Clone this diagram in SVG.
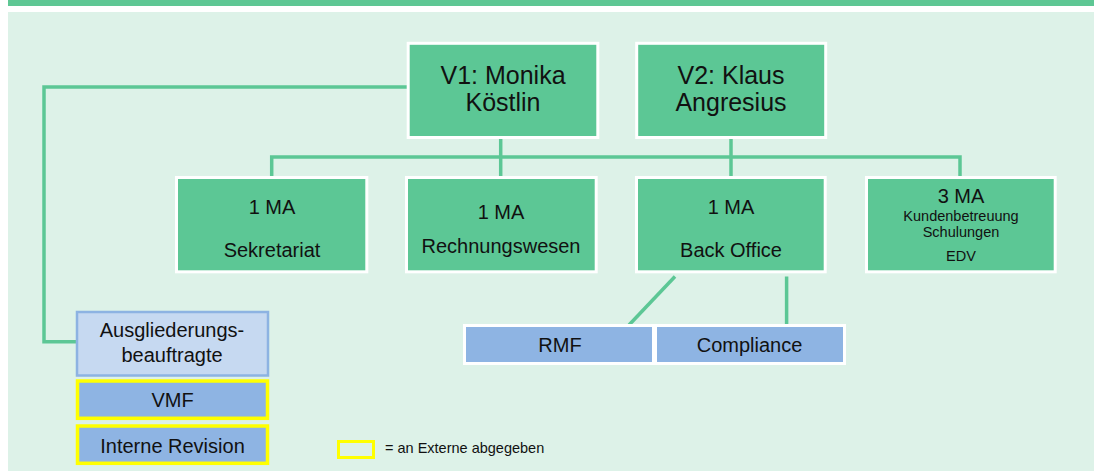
<svg xmlns="http://www.w3.org/2000/svg" width="1094" height="471" viewBox="0 0 1094 471">
<style>
text{font-family:"Liberation Sans",Arial,sans-serif;fill:#111;text-anchor:middle}
.g{fill:#5cc795;stroke:#fff;stroke-width:3}
.lb{fill:#c6d9f1;stroke:#8db3e2;stroke-width:2.5}
.db{fill:#8eb4e3;stroke:#ffff00;stroke-width:3.5}
.wb{fill:#8eb4e3;stroke:#fff;stroke-width:3}
.c{fill:none;stroke:#5cc795;stroke-width:3.5}
.big{font-size:25px}
.m{font-size:20px}
.s{font-size:14.5px}
</style>
<rect x="0" y="0" width="1094" height="471" fill="#fff"/>
<rect x="8" y="0" width="1086" height="6" fill="#5ec794"/>
<rect x="8" y="12" width="1086" height="459" fill="#ddf2e8"/>
<g id="connectors">
<polyline class="c" points="407,87 44,87 44,341.7 77,341.7"/>
<polyline class="c" points="271.7,177 271.7,157 960,157 960,177"/>
<line class="c" x1="500.7" y1="139" x2="500.7" y2="177"/>
<line class="c" x1="731" y1="139" x2="731" y2="177"/>
<line class="c" x1="675" y1="276.5" x2="629" y2="325"/>
<line class="c" x1="786.6" y1="276.5" x2="786.6" y2="325"/>
</g>
<g id="v1"><rect class="g" x="408.2" y="43.3" width="189.6" height="94.2"/><text class="big" x="503" y="84">V1: Monika</text><text class="big" x="503" y="111">Köstlin</text></g>
<g id="v2"><rect class="g" x="636.7" y="43.3" width="189" height="94.2"/><text class="big" x="731" y="84">V2: Klaus</text><text class="big" x="731" y="111">Angresius</text></g>
<g id="sekretariat"><rect class="g" x="176.5" y="177.5" width="190.3" height="94.3"/><text class="m" x="272" y="214.3">1 MA</text><text class="m" x="272" y="256.7">Sekretariat</text></g>
<g id="rechnungswesen"><rect class="g" x="406.5" y="177.5" width="189.7" height="94.3"/><text class="m" x="501" y="219">1 MA</text><text class="m" x="501" y="252.7">Rechnungswesen</text></g>
<g id="backoffice"><rect class="g" x="636.5" y="177.5" width="188.7" height="94.3"/><text class="m" x="731" y="214.3">1 MA</text><text class="m" x="731" y="256.7">Back Office</text></g>
<g id="drei-ma"><rect class="g" x="866.5" y="177.5" width="188.7" height="94.3"/><text class="m" x="961" y="202.7">3 MA</text><text class="s" x="961" y="221">Kundenbetreuung</text><text class="s" x="961" y="237">Schulungen</text><text class="s" x="961" y="260.5">EDV</text></g>
<g id="ausgliederung"><rect class="lb" x="77" y="312" width="191" height="63.5"/><text class="m" x="172" y="337.3">Ausgliederungs-</text><text class="m" x="172" y="361.7">beauftragte</text></g>
<g id="vmf"><rect class="db" x="77.5" y="381" width="190" height="37.3"/><text class="m" x="172.5" y="407.3">VMF</text></g>
<g id="revision"><rect class="db" x="77.5" y="426" width="190" height="37.3"/><text class="m" x="172.5" y="452.7">Interne Revision</text></g>
<g id="rmf"><rect class="wb" x="464.5" y="325.5" width="189" height="38"/><text class="m" x="560" y="352">RMF</text></g>
<g id="compliance"><rect class="wb" x="655.5" y="325.5" width="189" height="38"/><text class="m" x="749.5" y="352">Compliance</text></g>
<g id="legend"><rect x="338.5" y="441.5" width="35" height="16" fill="none" stroke="#ffff00" stroke-width="3"/><text class="s" x="385" y="452.5" style="text-anchor:start">= an Externe abgegeben</text></g>
</svg>
